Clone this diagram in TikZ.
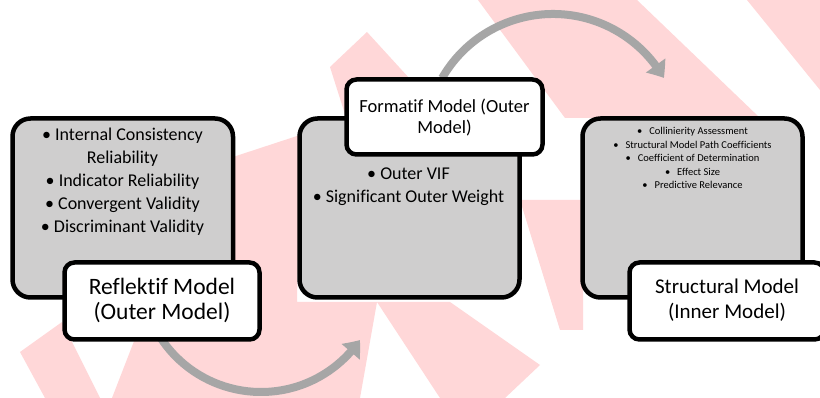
\documentclass[tikz,border=0pt]{standalone}
\usepackage{fontspec}
\setmainfont{Carlito}[Ligatures={NoCommon}]
\usetikzlibrary{arrows.meta,bending}
\definecolor{wm}{RGB}{255,215,216}
\definecolor{boxgray}{RGB}{207,206,206}
\definecolor{arrowgray}{RGB}{166,166,166}
\begin{document}
\begin{tikzpicture}[x=1pt,y=-1pt,
  panel/.style={draw=black, line width=4.5pt, fill=boxgray, rounded corners=18pt, inner sep=0pt},
  labelbox/.style={draw=black, line width=4.5pt, fill=white, rounded corners=10pt, inner sep=0pt},
  cyc/.style={draw=arrowgray, line width=8pt, -{Triangle[length=15pt,width=23pt,bend]}},
  wmark/.style={fill=wm, draw=none},
  bigtxt/.style={align=center, font=\fontsize{22}{25}\selectfont},
  midtxt/.style={align=center, font=\fontsize{18}{23}\selectfont},
  smalltxt/.style={align=center, font=\fontsize{10.5}{13.5}\selectfont}]
\useasboundingbox (0,0) rectangle (820,398);
\clip (0,0) rectangle (820,398);
\fill[white] (0,0) rectangle (820,398);
% watermark
\fill[wmark] (20,352) -- (62,322) -- (100,398) -- (45,398) -- cycle;
\fill[wmark] (112,398) -- (360,398) -- (377,302) -- (297,302) -- (300,135) -- (233,157) -- (150,300) -- cycle;
\fill[wmark] (377,302) -- (450,302) -- (540,365) -- (505,398) -- (440,398) -- cycle;
\fill[wmark] (330,67) -- (367,32) -- (420,90) -- (350,130) -- cycle;
\fill[wmark] (478,0) -- (637,0) -- (760,118) -- (565,118) -- cycle;
\fill[wmark] (747,0) -- (820,0) -- (820,90) -- cycle;
\fill[wmark] (520,200) -- (583,200) -- (583,330) -- (560,330) -- cycle;
% cycle arrows
\coordinate (c1) at (261,272);
\coordinate (c2) at (553,142);
\draw[cyc] (c1) ++(150:120) arc[start angle=150, end angle=34.5, radius=120];
\draw[cyc] (c2) ++(210:128) arc[start angle=210, end angle=330, radius=128];
% panels
\node[panel, minimum width=220.5pt, minimum height=179pt] (p1) at (122.75,208) {};
\node[panel, minimum width=220pt, minimum height=179pt] (p2) at (409.5,208) {};
\node[panel, minimum width=220pt, minimum height=179pt] (p3) at (692.5,208) {};
% panel texts
\node[midtxt] (t1) at (122.5,182) {• Internal Consistency\\Reliability\\• Indicator Reliability\\• Convergent Validity\\• Discriminant Validity};
\node[midtxt] (t2) at (408.5,187) {• Outer VIF\\• Significant Outer Weight};
\node[smalltxt] (t3) at (692.5,158) {•\hspace{7pt}Collinierity Assessment\\•\hspace{7pt}Structural Model Path Coefficients\\•\hspace{7pt}Coefficient of Determination\\•\hspace{7pt}Effect Size\\•\hspace{7pt}Predictive Relevance};
% label boxes
\node[labelbox, minimum width=195pt, minimum height=77pt] (l1) at (162,301) {};
\node[bigtxt, font=\fontsize{23.5}{25}\selectfont] (lt1) at (162,300.5) {Reflektif Model\\(Outer Model)};
\node[labelbox, minimum width=196pt, minimum height=75pt] (l2) at (444.5,117) {};
\node[align=center, font=\fontsize{18.5}{21.5}\selectfont] (lt2) at (444.5,117.5) {Formatif Model (Outer\\Model)};
\node[labelbox, minimum width=195pt, minimum height=77pt] (l3) at (727,301) {};
\node[bigtxt, font=\fontsize{21}{24.5}\selectfont] (lt3) at (727,300) {Structural Model\\(Inner Model)};
\end{tikzpicture}
\end{document}
